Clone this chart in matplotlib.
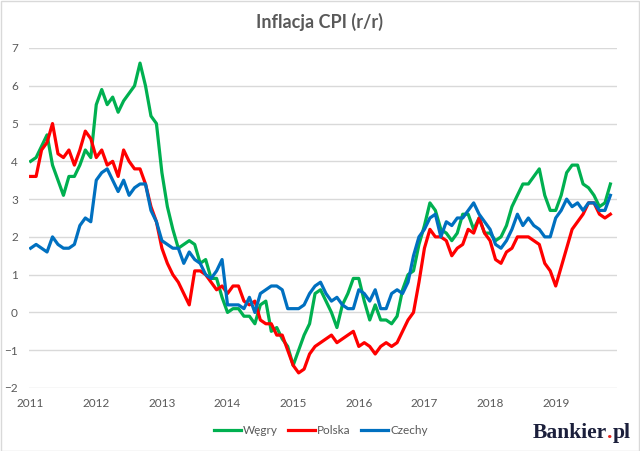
import numpy as np
import matplotlib
matplotlib.use("Agg")
import matplotlib.pyplot as plt
from matplotlib.patches import Rectangle

plt.rcParams['font.family'] = ['Lato', 'DejaVu Sans']

# monthly CPI y/y, Jan 2011 - Nov 2019
years = [2011, 2012, 2013, 2014, 2015, 2016, 2017, 2018, 2019]

wegry = [4.0, 4.1, 4.4, 4.7, 3.9, 3.5, 3.1, 3.6, 3.6, 3.9, 4.3, 4.1,
         5.5, 5.9, 5.5, 5.7, 5.3, 5.6, 5.8, 6.0, 6.6, 6.0, 5.2, 5.0,
         3.7, 2.8, 2.2, 1.7, 1.8, 1.9, 1.8, 1.3, 1.4, 0.9, 0.9, 0.4,
         0.0, 0.1, 0.1, -0.1, -0.1, -0.3, 0.2, 0.3, -0.5, -0.4, -0.7, -0.9,
         -1.4, -1.0, -0.6, -0.3, 0.5, 0.6, 0.3, 0.0, -0.4, 0.2, 0.5, 0.9,
         0.9, 0.3, -0.2, 0.2, -0.2, -0.2, -0.3, -0.1, 0.6, 1.0, 1.1, 1.8,
         2.3, 2.9, 2.7, 2.2, 2.1, 1.9, 2.1, 2.6, 2.6, 2.2, 2.5, 2.1,
         2.1, 1.9, 2.0, 2.3, 2.8, 3.1, 3.4, 3.4, 3.6, 3.8, 3.1, 2.7,
         2.7, 3.1, 3.7, 3.9, 3.9, 3.4, 3.3, 3.1, 2.8, 2.9, 3.4]

polska = [3.6, 3.6, 4.3, 4.5, 5.0, 4.2, 4.1, 4.3, 3.9, 4.3, 4.8, 4.6,
          4.1, 4.3, 3.9, 4.0, 3.6, 4.3, 4.0, 3.8, 3.8, 3.4, 2.8, 2.4,
          1.7, 1.3, 1.0, 0.8, 0.5, 0.2, 1.1, 1.1, 1.0, 0.8, 0.6, 0.7,
          0.5, 0.7, 0.7, 0.3, 0.2, 0.3, -0.2, -0.3, -0.3, -0.6, -0.6, -1.0,
          -1.4, -1.6, -1.5, -1.1, -0.9, -0.8, -0.7, -0.6, -0.8, -0.7, -0.6, -0.5,
          -0.9, -0.8, -0.9, -1.1, -0.9, -0.8, -0.9, -0.8, -0.5, -0.2, 0.0, 0.8,
          1.7, 2.2, 2.0, 2.0, 1.9, 1.5, 1.7, 1.8, 2.2, 2.1, 2.5, 2.1,
          1.9, 1.4, 1.3, 1.6, 1.7, 2.0, 2.0, 2.0, 1.9, 1.8, 1.3, 1.1,
          0.7, 1.2, 1.7, 2.2, 2.4, 2.6, 2.9, 2.9, 2.6, 2.5, 2.6]

czechy = [1.7, 1.8, 1.7, 1.6, 2.0, 1.8, 1.7, 1.7, 1.8, 2.3, 2.5, 2.4,
          3.5, 3.7, 3.8, 3.5, 3.2, 3.5, 3.1, 3.3, 3.4, 3.4, 2.7, 2.4,
          1.9, 1.8, 1.7, 1.7, 1.3, 1.6, 1.4, 1.3, 1.0, 0.9, 1.1, 1.4,
          0.2, 0.2, 0.2, 0.1, 0.4, 0.0, 0.5, 0.6, 0.7, 0.7, 0.6, 0.1,
          0.1, 0.1, 0.2, 0.5, 0.7, 0.8, 0.5, 0.3, 0.4, 0.2, 0.1, 0.1,
          0.6, 0.5, 0.3, 0.6, 0.1, 0.1, 0.5, 0.6, 0.5, 0.8, 1.5, 2.0,
          2.2, 2.5, 2.6, 2.0, 2.4, 2.3, 2.5, 2.5, 2.7, 2.9, 2.6, 2.4,
          2.2, 1.8, 1.7, 1.9, 2.2, 2.6, 2.3, 2.5, 2.3, 2.2, 2.0, 2.0,
          2.5, 2.7, 3.0, 2.8, 2.9, 2.7, 2.9, 2.9, 2.7, 2.7, 3.1]

months = np.arange(len(wegry))
grey = '#595959'

fig = plt.figure(figsize=(6.4, 4.51), dpi=100)
ax = fig.add_axes([0.0453, 0.1397, 0.9187, 0.7539])

ax.plot(months, wegry, color='#00B050', lw=2.3, label='Węgry', solid_joinstyle='round')
ax.plot(months, polska, color='#FF0000', lw=2.3, label='Polska', solid_joinstyle='round')
ax.plot(months, czechy, color='#0070C0', lw=2.3, label='Czechy', solid_joinstyle='round')

ax.set_ylim(-2, 7)
ax.set_xlim(-0.3, 107.2)
ax.set_yticks(range(-2, 8))
ax.set_xticks([12 * i for i in range(len(years))])
ax.set_xticklabels([str(y) for y in years])
ax.tick_params(length=0, colors=grey, labelsize=8.5)
ax.tick_params(axis='y', pad=8)
ax.tick_params(axis='x', pad=7)
ax.grid(axis='y', color='#d9d9d9', lw=1.0)
ax.set_axisbelow(True)
for s in ax.spines.values():
    s.set_visible(False)

fig.text(0.5, 0.951, 'Inflacja CPI (r/r)', ha='center', va='center',
         fontsize=13, fontweight='bold', color=grey)

leg = fig.legend(loc='center', bbox_to_anchor=(0.501, 0.046), ncol=3, frameon=False,
                 fontsize=8.5, handlelength=2.3, handletextpad=0.15, columnspacing=0.9)
for t in leg.get_texts():
    t.set_color(grey)

# logo
navy = '#1b1f3b'
t1 = fig.text(533 / 640, 1 - 443 / 451, 'Bankier', ha='left', va='bottom',
              fontsize=15.5, fontweight='bold', color=navy, family='Liberation Serif')
t2 = fig.text(0, 0, '.', ha='left', va='bottom', fontsize=15.5, fontweight='bold',
              color='#e8261c', family='Liberation Serif')
t3 = fig.text(0, 0, 'pl', ha='left', va='bottom', fontsize=15.5, fontweight='bold',
              color=navy, family='Liberation Serif')
fig.canvas.draw()
r = fig.canvas.get_renderer()
bb1 = t1.get_window_extent(r).transformed(fig.transFigure.inverted())
t2.set_position((bb1.x1, bb1.y0))
bb2 = t2.get_window_extent(r).transformed(fig.transFigure.inverted())
t3.set_position((bb2.x1, bb2.y0))

fig.add_artist(Rectangle((0.001, 0.001), 0.997, 0.997, transform=fig.transFigure,
                         fill=False, edgecolor='#d9d9d9', lw=1.0))

fig.savefig('out.png', dpi=100)
